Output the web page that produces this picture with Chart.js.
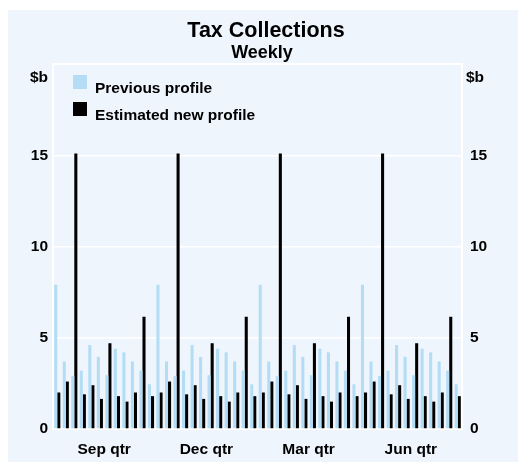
<!DOCTYPE html>
<html>
<head>
<meta charset="utf-8">
<title>Tax Collections</title>
<script src="https://cdn.jsdelivr.net/npm/chart.js@4.4.0/dist/chart.umd.min.js"></script>
<style>
  html, body { margin: 0; padding: 0; background: #fff; }
  #wrap { width: 518px; height: 462px; }
</style>
</head>
<body>
<div id="wrap"><canvas id="taxChart" width="518" height="462"></canvas></div>
<script>
// Datos del gráfico
const quarters = ['Sep qtr', 'Dec qtr', 'Mar qtr', 'Jun qtr'];
const weeksPerQuarter = 12;

const previousProfile = [
    7.9, 3.7, 2.9, 3.2, 4.6, 3.95, 2.95, 4.4, 4.2, 3.7, 3.2, 2.45,
    7.9, 3.7, 2.9, 3.2, 4.6, 3.95, 2.95, 4.4, 4.2, 3.7, 3.2, 2.45,
    7.9, 3.7, 2.9, 3.2, 4.6, 3.95, 2.95, 4.4, 4.2, 3.7, 3.2, 2.45,
    7.9, 3.7, 2.9, 3.2, 4.6, 3.95, 2.95, 4.4, 4.2, 3.7, 3.2, 2.45
];
const estimatedProfile = [
    2.0, 2.6, 15.1, 1.9, 2.4, 1.65, 4.7, 1.8, 1.5, 2.0, 6.15, 1.8,
    2.0, 2.6, 15.1, 1.9, 2.4, 1.65, 4.7, 1.8, 1.5, 2.0, 6.15, 1.8,
    2.0, 2.6, 15.1, 1.9, 2.4, 1.65, 4.7, 1.8, 1.5, 2.0, 6.15, 1.8,
    2.0, 2.6, 15.1, 1.9, 2.4, 1.65, 4.7, 1.8, 1.5, 2.0, 6.15, 1.8
];
const yTicks = [0, 5, 10, 15];

// Etiquetas semanales (una categoría por semana)
const weekLabels = quarters.flatMap(q =>
    Array.from({ length: weeksPerQuarter }, (_, i) => q + ' wk ' + (i + 1)));

const FONT = '"Liberation Sans", Arial, Helvetica, sans-serif';
const PANEL = '#eef5fc';
const LIGHT_BLUE = '#b4ddf5';

Chart.defaults.font.family = FONT;
Chart.defaults.color = '#000';

// Fondo, marco, título y leyenda
const decor = {
    id: 'decor',
    beforeDraw(chart) {
        const ctx = chart.ctx;
        ctx.save();
        ctx.fillStyle = '#fff';
        ctx.fillRect(0, 0, chart.width, chart.height);
        ctx.fillStyle = PANEL;
        ctx.fillRect(8, 10, chart.width - 8, chart.height - 10);
        ctx.restore();
    },
    beforeDatasetsDraw(chart) {
        const a = chart.chartArea;
        const ctx = chart.ctx;
        ctx.save();
        ctx.strokeStyle = '#fff';
        ctx.lineWidth = 2;
        ctx.strokeRect(a.left, a.top, a.right - a.left, a.bottom - a.top);
        ctx.restore();
    },
    afterDraw(chart) {
        const ctx = chart.ctx;
        const a = chart.chartArea;
        ctx.save();
        ctx.fillStyle = '#000';
        ctx.textBaseline = 'alphabetic';

        ctx.textAlign = 'center';
        ctx.font = 'bold 21.5px ' + FONT;
        ctx.fillText('Tax Collections', 266, 37);
        ctx.font = 'bold 18px ' + FONT;
        ctx.fillText('Weekly', 262, 57.5);

        ctx.font = 'bold 15.5px ' + FONT;
        ctx.textAlign = 'right';
        ctx.fillText('$b', a.left - 5, 82);
        ctx.textAlign = 'left';
        ctx.fillText('$b', a.right + 4, 82);

        // Leyenda
        const items = chart.data.datasets;
        items.forEach((ds, i) => {
            const y = 75 + i * 27;
            ctx.fillStyle = ds.backgroundColor;
            ctx.fillRect(73, y, 14, 14);
            ctx.fillStyle = '#000';
            ctx.fillText(ds.label, 95, y + 17.5);
        });
        ctx.restore();
    }
};

const ctx = document.getElementById('taxChart');
new Chart(ctx, {
    type: 'bar',
    data: {
        labels: weekLabels,
        datasets: [
            {
                label: 'Previous profile',
                data: previousProfile,
                backgroundColor: LIGHT_BLUE,
                categoryPercentage: 0.72,
                barPercentage: 1.0
            },
            {
                label: 'Estimated new profile',
                data: estimatedProfile,
                backgroundColor: '#000',
                categoryPercentage: 0.72,
                barPercentage: 1.0
            }
        ]
    },
    options: {
        responsive: false,
        animation: false,
        layout: { padding: { top: 64, left: 0, right: 0, bottom: 0 } },
        plugins: {
            legend: { display: false },
            title: { display: false },
            tooltip: { enabled: false }
        },
        scales: {
            x: {
                display: false,
                offset: true
            },
            xq: {
                type: 'category',
                labels: quarters,
                position: 'bottom',
                offset: true,
                grid: { display: false, drawTicks: false },
                border: { display: false },
                ticks: {
                    padding: 11,
                    maxRotation: 0,
                    font: { size: 15.5, weight: 'bold' }
                },
                afterFit(scale) { scale.height = 33; }
            },
            y: {
                position: 'left',
                min: 0,
                max: 20,
                afterBuildTicks(scale) {
                    scale.ticks = yTicks.concat([20]).map(v => ({ value: v }));
                },
                grid: { color: '#fff', lineWidth: 1.5, drawTicks: false },
                border: { display: false },
                ticks: {
                    padding: 5,
                    font: { size: 15.5, weight: 'bold' },
                    callback: v => (yTicks.includes(v) ? v : '')
                },
                afterFit(scale) { scale.width = 53; }
            },
            y2: {
                position: 'right',
                min: 0,
                max: 20,
                afterBuildTicks(scale) {
                    scale.ticks = yTicks.concat([20]).map(v => ({ value: v }));
                },
                grid: { display: false, drawTicks: false },
                border: { display: false },
                ticks: {
                    padding: 8,
                    font: { size: 15.5, weight: 'bold' },
                    callback: v => (yTicks.includes(v) ? v : '')
                },
                afterFit(scale) { scale.width = 56; }
            }
        }
    },
    plugins: [decor]
});
</script>
</body>
</html>
